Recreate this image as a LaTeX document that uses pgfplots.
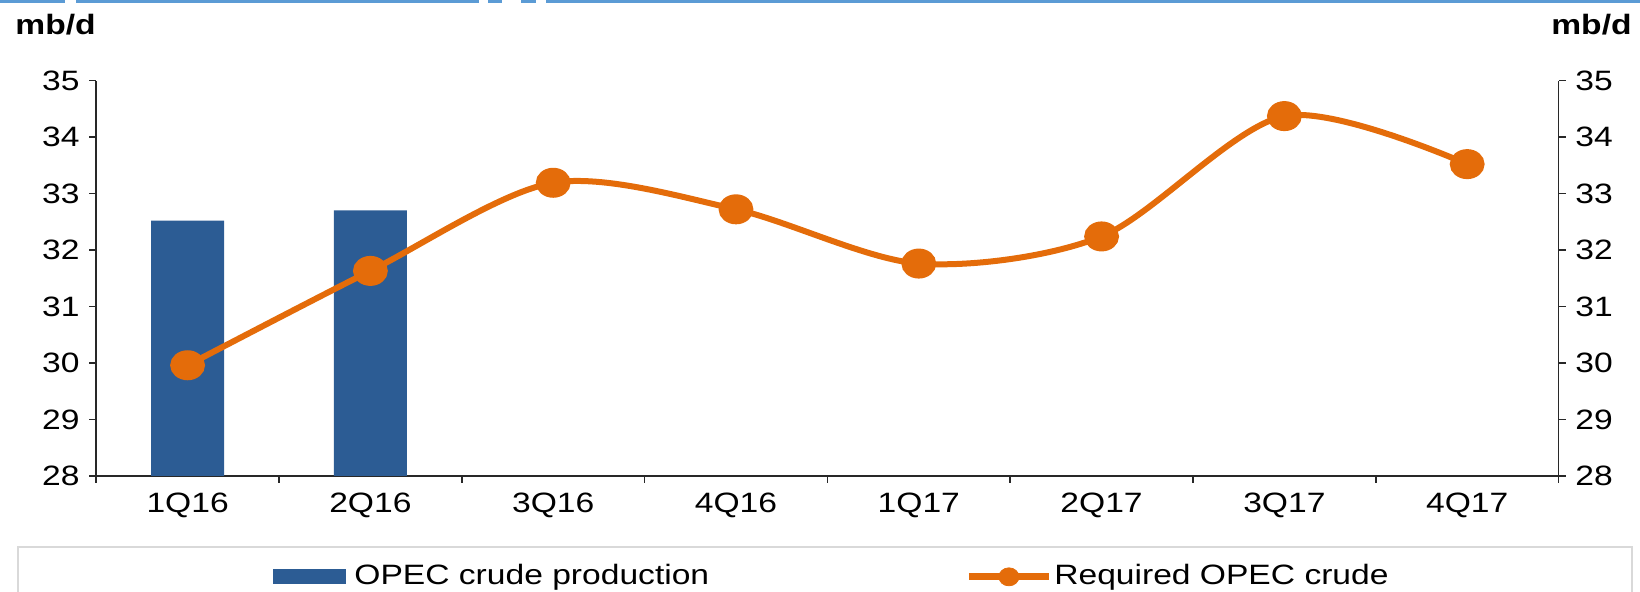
\documentclass[border=0pt]{standalone}
\usepackage{fontspec}
\setmainfont[FakeStretch=1.2]{Liberation Sans}
\usepackage{pgfplots}
\pgfplotsset{compat=1.18}
\definecolor{barblue}{RGB}{44,92,148}
\definecolor{orangec}{RGB}{228,108,10}
\definecolor{legbord}{RGB}{217,217,217}
\definecolor{topblue}{RGB}{91,155,213}
\definecolor{axcol}{RGB}{40,40,40}
\pgfplotsset{
  common/.style={
    at={(48.1pt,58pt)}, anchor=south west,
    scale only axis, width=731.2pt, height=197.75pt,
    xmin=-0.5, xmax=7.5, ymin=28, ymax=35,
    axis line style={line width=0.8pt, axcol},
    tick style={line width=0.8pt, axcol},
    tick align=outside,
    major tick length=3.5pt, minor tick length=3.5pt,
    ytick={28,...,35},
    /pgf/number format/assume math mode=true,
    tick label style={font=\fontsize{14}{16}\selectfont},
    legend style={draw=none, fill=none, inner sep=0pt,
      nodes={inner sep=0pt, font=\fontsize{14}{16}\selectfont}},
    legend cell align=left,
  }
}
\begin{document}
\fontsize{14}{16}\selectfont
\begin{tikzpicture}
\useasboundingbox (0,0) rectangle (820pt,296pt);
\begin{scope}[topblue, line width=1.6pt]
\draw (0pt,295.3pt) -- (32.5pt,295.3pt);
\draw (38pt,295.3pt) -- (239.5pt,295.3pt);
\draw (244pt,295.3pt) -- (251pt,295.3pt);
\draw (260.5pt,295.3pt) -- (268pt,295.3pt);
\draw (273pt,295.3pt) -- (820pt,295.3pt);
\end{scope}
\draw[legbord, line width=1pt] (9pt,-5pt) -- (9pt,22.5pt) -- (816pt,22.5pt) -- (816pt,-5pt);
\node[anchor=base west, inner sep=0pt, font=\bfseries] at (7.5pt,278.5pt) {mb/d};
\node[anchor=base east, inner sep=0pt, font=\bfseries] at (816pt,278.5pt) {mb/d};
\begin{axis}[common,
  axis x line*=bottom, axis y line*=left,
  xtick={0,...,7},
  xticklabels={1Q16,2Q16,3Q16,4Q16,1Q17,2Q17,3Q17,4Q17},
  minor xtick={-0.5,0.5,...,7.5},
  major x tick style={draw=none},
  legend style={at={(0.1209,-0.255)}, anchor=west},
]
\addplot[ybar, bar width=36.6pt, fill=barblue, draw=none,
  legend image code/.code={\fill[barblue] (0pt,-3.75pt) rectangle (36.5pt,3.75pt); \path (40.5pt,0pt);}]
  coordinates {(0,32.52) (1,32.70)};
\addlegendentry{OPEC crude production}
\addplot[orangec, line width=3pt, smooth, mark=*, mark size=6pt,
  mark options={xscale=1.2, solid, fill=orangec, draw=none}, forget plot]
  coordinates {(0,29.96) (1,31.63) (2,33.19) (3,32.72) (4,31.76) (5,32.24) (6,34.37) (7,33.52)};
\end{axis}
\begin{axis}[common,
  hide x axis, axis y line*=right,
  legend style={at={(0.5941,-0.255)}, anchor=west},
]
\addlegendimage{legend image code/.code={\draw[orangec, line width=3.5pt] (0pt,0pt) -- (40pt,0pt); \fill[orangec] (20pt,0pt) ellipse (5pt and 4.5pt); \path (42.5pt,0pt);}}
\addlegendentry{Required OPEC crude}
\end{axis}
\end{tikzpicture}
\end{document}
